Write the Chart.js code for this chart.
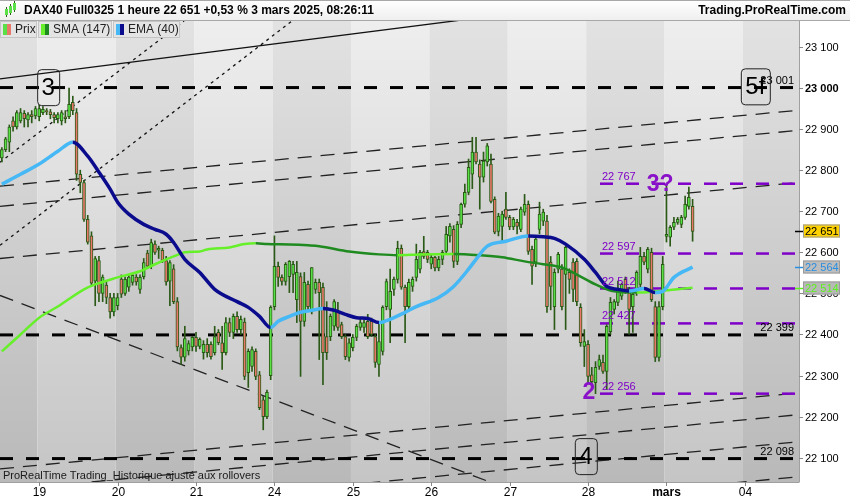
<!DOCTYPE html>
<html>
<head>
<meta charset="utf-8">
<script src="https://cdn.jsdelivr.net/npm/chart.js@4.4.1/dist/chart.umd.min.js"></script>
<style>
  html, body { margin: 0; padding: 0; background: #fff; }
  canvas { display: block; }
</style>
</head>
<body>
<canvas id="chart" width="850" height="500"></canvas>
<script>
'use strict';

// Hourly candles, [open, high, low, close], one array per session
const feb18 = [
  [22830,22855,22820,22850],[22850,22880,22845,22876],[22868,22910,22845,22905],[22920,22930,22895,22905],
  [22905,22945,22900,22940],[22920,22950,22915,22940],[22938,22945,22905,22925],[22922,22940,22905,22935],
  [22935,22945,22915,22930],[22932,22955,22925,22950]
];
const feb19 = [
  [22930,22958,22920,22950],[22940,22955,22935,22948],[22945,22950,22935,22942],[22942,22948,22925,22935],
  [22935,22940,22915,22928],[22925,22940,22915,22935],[22920,22945,22910,22940],[22930,22945,22915,22925],
  [22930,23000,22925,22960],[22965,22980,22935,22945],[22940,22950,22775,22790],[22790,22800,22745,22770],
  [22770,22775,22675,22680],[22680,22690,22620,22625],[22640,22650,22520,22525],[22530,22590,22470,22585],
  [22580,22590,22480,22500],[22500,22545,22480,22540],[22520,22530,22475,22490],[22490,22500,22440,22455],
  [22455,22500,22445,22490]
];
const feb20 = [
  [22470,22500,22460,22490],[22535,22545,22490,22498],[22500,22540,22495,22534],[22515,22545,22505,22540],
  [22527,22548,22520,22544],[22540,22546,22520,22528],[22510,22545,22500,22539],[22541,22585,22535,22575],
  [22598,22605,22560,22566],[22566,22632,22560,22624],[22620,22628,22595,22600],[22605,22615,22585,22610],
  [22605,22610,22575,22580],[22580,22590,22520,22528],[22530,22580,22470,22575],[22560,22570,22475,22480],
  [22480,22490,22360,22370],[22368,22375,22327,22345],[22345,22420,22335,22390],[22360,22385,22350,22378],
  [22370,22395,22360,22393]
];
const feb21 = [
  [22393,22405,22359,22371],[22371,22392,22365,22388],[22356,22385,22340,22376],[22376,22390,22345,22356],
  [22376,22382,22340,22346],[22356,22420,22350,22395],[22405,22412,22375,22380],[22380,22420,22315,22356],
  [22356,22441,22350,22429],[22429,22440,22395,22405],[22405,22450,22390,22444],[22444,22455,22405,22412],
  [22412,22445,22400,22437],[22430,22440,22290,22298],[22307,22365,22271,22359],[22322,22370,22310,22363],
  [22359,22365,22290,22298],[22302,22310,22217,22222],[22241,22250,22168,22200],[22200,22265,22195,22259],
  [22300,22470,22290,22466]
];
const feb24 = [
  [22468,22640,22460,22566],[22566,22576,22517,22539],[22539,22545,22520,22529],[22529,22575,22520,22571],
  [22541,22580,22502,22578],[22546,22578,22502,22571],[22485,22578,22429,22551],[22541,22550,22298,22432],
  [22432,22551,22420,22527],[22522,22530,22460,22468],[22456,22563,22450,22563],[22510,22535,22500,22527],
  [22527,22535,22339,22502],[22515,22525,22278,22356],[22395,22480,22339,22356],[22395,22450,22385,22444],
  [22420,22485,22410,22480],[22454,22478,22410,22417],[22424,22430,22390,22395],[22395,22400,22339,22346],
  [22344,22390,22335,22380]
];
const feb25 = [
  [22368,22400,22360,22393],[22393,22425,22385,22420],[22417,22440,22410,22429],[22417,22435,22405,22429],
  [22432,22449,22390,22395],[22432,22440,22395,22400],[22395,22400,22320,22332],[22327,22430,22298,22383],
  [22359,22470,22350,22466],[22468,22535,22460,22529],[22461,22559,22380,22505],[22510,22540,22495,22534],
  [22534,22627,22525,22610],[22610,22618,22510,22515],[22515,22520,22380,22468],[22468,22535,22460,22527],
  [22517,22540,22505,22534],[22539,22620,22530,22583],[22559,22605,22550,22600],[22602,22639,22585,22590],
  [22600,22605,22575,22583]
];
const feb26 = [
  [22571,22595,22560,22588],[22588,22590,22555,22562],[22562,22590,22555,22583],[22583,22605,22570,22600],
  [22602,22663,22595,22644],[22640,22670,22625,22663],[22656,22665,22563,22578],[22578,22675,22570,22668],
  [22668,22720,22660,22717],[22717,22766,22710,22746],[22746,22827,22740,22807],[22790,22880,22755,22844],
  [22844,22880,22815,22820],[22815,22825,22705,22783],[22783,22844,22771,22822],[22820,22865,22810,22859],
  [22815,22839,22720,22724],[22729,22735,22645,22649],[22651,22695,22640,22688],[22663,22700,22627,22693],
  [22705,22746,22680,22685]
];
const feb27 = [
  [22685,22690,22655,22662],[22662,22685,22655,22680],[22673,22680,22645,22663],[22656,22710,22650,22705],
  [22698,22741,22690,22717],[22717,22725,22595,22602],[22607,22615,22522,22566],[22576,22640,22565,22632],
  [22656,22722,22645,22693],[22676,22705,22665,22698],[22676,22690,22454,22468],[22576,22590,22460,22517],
  [22468,22560,22412,22551],[22559,22600,22550,22595],[22559,22570,22460,22468],[22546,22615,22412,22612],
  [22551,22560,22500,22534],[22576,22585,22480,22510],[22578,22585,22470,22480],[22466,22475,22371,22380],
  [22371,22412,22322,22383]
];
const feb28 = [
  [22376,22385,22283,22298],[22302,22320,22266,22285],[22283,22334,22256,22320],[22322,22350,22315,22339],
  [22332,22350,22305,22310],[22310,22424,22266,22420],[22407,22490,22400,22478],[22461,22485,22450,22480],
  [22478,22530,22470,22505],[22493,22525,22485,22522],[22534,22540,22500,22510],[22510,22515,22400,22461],
  [22468,22505,22405,22498],[22502,22555,22495,22551],[22522,22612,22515,22590],[22590,22600,22570,22576],
  [22559,22612,22550,22607],[22600,22610,22480,22485],[22468,22480,22334,22344],[22344,22480,22335,22468],
  [22468,22590,22460,22571]
];
const mar03 = [
  [22639,22766,22625,22644],[22637,22665,22615,22661],[22661,22685,22655,22673],[22673,22685,22668,22680],
  [22668,22690,22660,22685],[22685,22737,22680,22717],[22712,22759,22705,22734],[22712,22729,22627,22651]
];
const sessions = [feb18, feb19, feb20, feb21, feb24, feb25, feb26, feb27, feb28, mar03];

// x axis: one slot per hour, sessions of 21 bars, room on the right
const slotCount = 214;
const dayLabels = ['19', '20', '21', '24', '25', '26', '27', '28', 'mars', '04'];
const dayStarts = [10, 31, 52, 73, 94, 115, 136, 157, 178, 199];

// y axis
const priceTicks = [22100, 22200, 22300, 22400, 22500, 22600, 22700, 22800, 22900, 23000, 23100];
const yMin = 22041;
const yMax = 23163;

// indicators: [bar index, value]
const sma147 = [
  [0,22359],[5,22400],[10,22441],[15,22468],[22,22510],[25,22522],[31,22539],[37,22554],[41,22571],
  [46,22590],[49,22600],[53,22602],[55,22607],[61,22612],[65,22620],[68,22622],[71,22620],[77,22619],
  [82,22617],[85,22615],[93,22602],[101,22595],[106,22593],[112,22595],[121,22596],[128,22593],
  [134,22588],[140,22578],[145,22571],[150,22563],[154,22546],[159,22522],[164,22505],[170,22502],
  [175,22505],[185,22514]
];
const ema40 = [
  [0,22766],[5,22790],[10,22815],[15,22846],[19,22868],[23,22834],[26,22795],[29,22754],[31,22722],
  [34,22693],[38,22668],[41,22656],[44,22644],[46,22624],[49,22583],[53,22551],[57,22510],[63,22480],
  [66,22466],[69,22444],[72,22417],[74,22432],[77,22444],[80,22454],[83,22459],[86,22463],[89,22459],
  [92,22449],[95,22441],[98,22439],[101,22429],[104,22437],[108,22454],[111,22468],[117,22490],
  [121,22517],[125,22559],[127,22583],[130,22615],[135,22627],[141,22640],[145,22638],[148,22634],
  [151,22620],[156,22583],[159,22551],[162,22517],[165,22510],[168,22506],[172,22512],[175,22502],
  [177,22505],[180,22539],[185,22564]
];

// drawn levels
const blackLevels = [23001, 22399, 22098];
const purpleLevels = [22767, 22597, 22512, 22427, 22256];
const purpleFrom = 160.2;

// trend lines: [fromIndex, fromPrice, toIndex, toPrice]
const solidLines = [[-0.5, 23022, 125.4, 23168]];
const dottedLines = [[-0.5, 22819, 48.8, 23163], [-0.5, 22617, 77.7, 23163]];
const dashedLines = [
  [-0.5, 22761, 213.5, 22946], [-0.5, 22712, 213.5, 22897], [-0.5, 22585, 213.5, 22770],
  [-0.5, 22073, 213.5, 22258], [-0.5, 22020, 213.5, 22205], [-0.5, 21953, 213.5, 22139],
  [-0.5, 21868, 213.5, 22054], [-0.5, 22495, 130.7, 22041]
];

// wave labels: [text, index, price, boxed, colour]
const waveLabels = [
  ['3', 12.4, 23002, true, '#000'],
  ['5f', 201.8, 23004, true, '#000'],
  ['4', 156.4, 22104, true, '#000'],
  ['3?', 176.3, 22768, false, '#8a12c8'],
  ['2', 157.2, 22261, false, '#8a12c8']
];

const FONT = "'Liberation Sans', Arial, sans-serif";
const UP = '#58e046', DOWN = '#e8786a', EDGE = '#2b5a17';
const SMA_UP = '#66f02a', SMA_DN = '#1f8a1f', EMA_UP = '#45b8f5', EMA_DN = '#0b0b8e';
const PURPLE = '#7f00c8';

const candles = [].concat(...sessions);
const fmt = v => Math.floor(v / 1000) + ' ' + String(Math.round(v) % 1000).padStart(3, '0');

function line(ctx, x, y, l, width, dash, color) {
  ctx.beginPath();
  ctx.setLineDash(dash);
  ctx.lineWidth = width;
  ctx.strokeStyle = color;
  ctx.moveTo(x.getPixelForValue(l[0]), y.getPixelForValue(l[1]));
  ctx.lineTo(x.getPixelForValue(l[2]), y.getPixelForValue(l[3]));
  ctx.stroke();
}

function roundRect(ctx, x0, y0, w, h, r) {
  ctx.beginPath();
  ctx.moveTo(x0 + r, y0);
  ctx.arcTo(x0 + w, y0, x0 + w, y0 + h, r);
  ctx.arcTo(x0 + w, y0 + h, x0, y0 + h, r);
  ctx.arcTo(x0, y0 + h, x0, y0, r);
  ctx.arcTo(x0, y0, x0 + w, y0, r);
  ctx.closePath();
}

const decor = {
  id: 'decor',
  beforeDraw(chart) {
    const { ctx, chartArea: a, scales: { x } } = chart;
    ctx.save();
    ctx.fillStyle = '#fff';
    ctx.fillRect(0, 0, chart.width, chart.height);
    // alternating session bands
    const edges = [x.min].concat(dayStarts.map(d => d - 0.5), [x.max]);
    for (let k = 0; k < edges.length - 1; k++) {
      const x0 = x.getPixelForValue(edges[k]), x1 = x.getPixelForValue(edges[k + 1]);
      const light = k % 2 === 1;
      const g = ctx.createLinearGradient(0, a.top, 0, a.bottom);
      g.addColorStop(0, light ? '#eeeeee' : '#e2e2e2');
      g.addColorStop(1, light ? '#c5c5c5' : '#b9b9b9');
      ctx.fillStyle = g;
      ctx.fillRect(x0, a.top, x1 - x0, a.bottom - a.top);
    }
    ctx.restore();
  },
  beforeDatasetsDraw(chart) {
    const { ctx, chartArea: a, scales: { x, y } } = chart;
    ctx.save();
    ctx.beginPath();
    ctx.rect(a.left, a.top, a.width, a.height);
    ctx.clip();
    solidLines.forEach(l => line(ctx, x, y, l, 1.3, [], '#111'));
    dottedLines.forEach(l => line(ctx, x, y, l, 1.3, [3, 4], '#111'));
    dashedLines.forEach(l => line(ctx, x, y, l, 1.3, [14, 9], '#222'));
    blackLevels.forEach(v => line(ctx, x, y, [x.min, v, x.max, v], 3, [13, 13], '#000'));
    purpleLevels.forEach(v => line(ctx, x, y, [purpleFrom, v, x.max, v], 2.5, [13, 13], PURPLE));
    ctx.restore();
  },
  afterDatasetsDraw(chart) {
    const { ctx, chartArea: a, scales: { x, y } } = chart;
    ctx.save();
    ctx.setLineDash([]);
    // level values
    ctx.font = '11px ' + FONT;
    ctx.textBaseline = 'middle';
    ctx.fillStyle = PURPLE;
    ctx.textAlign = 'left';
    purpleLevels.forEach(v => ctx.fillText(fmt(v), x.getPixelForValue(purpleFrom) + 2, y.getPixelForValue(v) - 7));
    ctx.fillStyle = '#000';
    ctx.textAlign = 'right';
    blackLevels.forEach(v => ctx.fillText(fmt(v), a.right - 5, y.getPixelForValue(v) - 7));
    // wave labels
    ctx.textAlign = 'center';
    waveLabels.forEach(([t, i, v, boxed, col]) => {
      const cx = x.getPixelForValue(i), cy = y.getPixelForValue(v);
      if (boxed) {
        const w = t.length > 1 ? 29 : 22;
        roundRect(ctx, cx - w / 2 + 0.5, cy - 18 + 0.5, w, 36, 4);
        ctx.lineWidth = 1;
        ctx.strokeStyle = '#222';
        ctx.stroke();
        ctx.font = '24px ' + FONT;
      } else {
        ctx.font = 'bold 23px ' + FONT;
      }
      ctx.fillStyle = col;
      ctx.fillText(t, cx, cy + 1);
    });
    ctx.font = '11px ' + FONT;
    ctx.textAlign = 'left';
    ctx.fillStyle = '#1a1a1a';
    ctx.fillText('ProRealTime Trading_Historique ajusté aux rollovers', 3, a.bottom - 6);
    ctx.restore();
  },
  afterDraw(chart) {
    const { ctx, chartArea: a, scales: { x, y } } = chart;
    ctx.save();
    ctx.setLineDash([]);
    // right price axis
    ctx.fillStyle = '#fff';
    ctx.fillRect(a.right, a.top, chart.width - a.right, chart.height - a.top);
    ctx.fillRect(0, a.bottom, chart.width, chart.height - a.bottom);
    ctx.strokeStyle = '#a0a0a0';
    ctx.lineWidth = 1;
    ctx.beginPath();
    ctx.moveTo(a.right + 0.5, a.top);
    ctx.lineTo(a.right + 0.5, a.bottom);
    ctx.moveTo(0, a.bottom + 0.5);
    ctx.lineTo(a.right + 0.5, a.bottom + 0.5);
    ctx.stroke();
    ctx.textBaseline = 'middle';
    ctx.textAlign = 'left';
    priceTicks.forEach(v => {
      const py = Math.round(y.getPixelForValue(v)) + 0.5;
      ctx.strokeStyle = '#888';
      ctx.beginPath();
      ctx.moveTo(a.right, py);
      ctx.lineTo(a.right + 4, py);
      ctx.stroke();
      ctx.font = (v % 1000 === 0 ? 'bold ' : '') + '11px ' + FONT;
      ctx.fillStyle = '#000';
      ctx.fillText(fmt(v), a.right + 6, py);
    });
    // value tags
    const lastClose = candles[candles.length - 1][3];
    const tags = [
      [ema40[ema40.length - 1][1], '#bdbdbd', '#2a8ee0', '#2a8ee0'],
      [sma147[sma147.length - 1][1], '#b8b8b8', '#5cf01e', '#5cf01e'],
      [lastClose, '#ffd200', '#000', '#000']
    ];
    tags.forEach(([v, bg, fg, tick]) => {
      const py = Math.round(y.getPixelForValue(v));
      ctx.fillStyle = bg;
      ctx.fillRect(a.right + 4, py - 6.5, 37, 13);
      ctx.strokeStyle = '#9a9a9a';
      ctx.strokeRect(a.right + 4.5, py - 6, 36, 12);
      ctx.strokeStyle = tick;
      ctx.lineWidth = 1.5;
      ctx.beginPath();
      ctx.moveTo(a.right - 4, py + 0.5);
      ctx.lineTo(a.right + 4, py + 0.5);
      ctx.stroke();
      ctx.lineWidth = 1;
      ctx.font = '11px ' + FONT;
      ctx.fillStyle = fg;
      ctx.fillText(fmt(v), a.right + 6, py + 0.5);
    });
    // bottom date axis
    ctx.textAlign = 'center';
    dayStarts.forEach((d, k) => {
      const px = Math.round(x.getPixelForValue(d)) + 0.5;
      ctx.strokeStyle = '#888';
      ctx.beginPath();
      ctx.moveTo(px, a.bottom);
      ctx.lineTo(px, a.bottom + 4);
      ctx.stroke();
      ctx.font = (dayLabels[k] === 'mars' ? 'bold ' : '') + '12px ' + FONT;
      ctx.fillStyle = '#000';
      ctx.fillText(dayLabels[k], px, a.bottom + 11);
    });
    // header
    const hg = ctx.createLinearGradient(0, 0, 0, 20);
    hg.addColorStop(0, '#ffffff');
    hg.addColorStop(1, '#efefef');
    ctx.fillStyle = hg;
    ctx.fillRect(0, 0, chart.width, 20);
    ctx.strokeStyle = '#a8a8a8';
    ctx.beginPath();
    ctx.moveTo(0, 0.5); ctx.lineTo(chart.width, 0.5);
    ctx.moveTo(0, 20.5); ctx.lineTo(chart.width, 20.5);
    ctx.stroke();
    // little candle icon
    [[5, 9, 6], [9, 6, 7], [13, 3, 7]].forEach(([ix, iy, ih]) => {
      ctx.fillStyle = EDGE;
      ctx.fillRect(ix + 1, iy - 2, 1, ih + 4);
      ctx.fillStyle = UP;
      ctx.fillRect(ix, iy, 3, ih);
    });
    ctx.font = 'bold 12px ' + FONT;
    ctx.fillStyle = '#000';
    ctx.textAlign = 'left';
    ctx.fillText('DAX40 Full0325 1 heure 22 651 +0,53 % 3 mars 2025, 08:26:11', 24, 11);
    ctx.textAlign = 'right';
    ctx.fillText('Trading.ProRealTime.com', 846, 11);
    // legend chips
    const chips = [[0, 37, 'Prix', UP, DOWN], [38, 74, 'SMA (147)', SMA_UP, SMA_DN], [113, 67, 'EMA (40)', EMA_UP, EMA_DN]];
    chips.forEach(([cx, cw, label, c1, c2]) => {
      ctx.fillStyle = '#e4e4e4';
      ctx.fillRect(cx, 21, cw, 17);
      ctx.strokeStyle = '#c4c4c4';
      ctx.strokeRect(cx + 0.5, 21.5, cw - 1, 16);
      ctx.fillStyle = c1;
      ctx.fillRect(cx + 3, 24, 4, 11);
      ctx.fillStyle = c2;
      ctx.fillRect(cx + 7, 24, 4, 11);
      ctx.font = '12px ' + FONT;
      ctx.fillStyle = '#222';
      ctx.textAlign = 'left';
      ctx.fillText(label, cx + 15, 30);
    });
    ctx.restore();
  }
};

new Chart(document.getElementById('chart'), {
  type: 'bar',
  data: {
    datasets: [
      {
        type: 'line',
        label: 'EMA (40)',
        data: ema40.map(([i, v]) => ({ x: i, y: v })),
        borderWidth: 3.5,
        pointRadius: 0,
        cubicInterpolationMode: 'monotone',
        segment: { borderColor: c => c.p1.parsed.y >= c.p0.parsed.y ? EMA_UP : EMA_DN },
        order: 0
      },
      {
        type: 'line',
        label: 'SMA (147)',
        data: sma147.map(([i, v]) => ({ x: i, y: v })),
        borderWidth: 2.5,
        pointRadius: 0,
        cubicInterpolationMode: 'monotone',
        segment: { borderColor: c => c.p1.parsed.y >= c.p0.parsed.y ? SMA_UP : SMA_DN },
        order: 1
      },
      {
        label: 'body',
        data: candles.map((c, i) => ({ x: i, y: [Math.min(c[0], c[3]), Math.max(c[0], c[3])] })),
        backgroundColor: candles.map(c => c[3] >= c[0] ? UP : DOWN),
        borderColor: EDGE,
        borderWidth: 1,
        borderSkipped: false,
        barThickness: 3,
        grouped: false,
        order: 2
      },
      {
        label: 'wick',
        data: candles.map((c, i) => ({ x: i, y: [c[2], c[1]] })),
        backgroundColor: EDGE,
        borderWidth: 0,
        barThickness: 1,
        grouped: false,
        order: 3
      }
    ]
  },
  options: {
    responsive: false,
    animation: false,
    devicePixelRatio: 1,
    layout: { padding: { left: 0, top: 21, right: 51, bottom: 18 } },
    plugins: { legend: { display: false }, tooltip: { enabled: false } },
    scales: {
      x: { type: 'linear', offset: false, grid: { offset: false }, min: -0.5, max: slotCount - 0.5, display: false },
      y: { type: 'linear', min: yMin, max: yMax, display: false }
    }
  },
  plugins: [decor]
});
</script>
</body>
</html>
